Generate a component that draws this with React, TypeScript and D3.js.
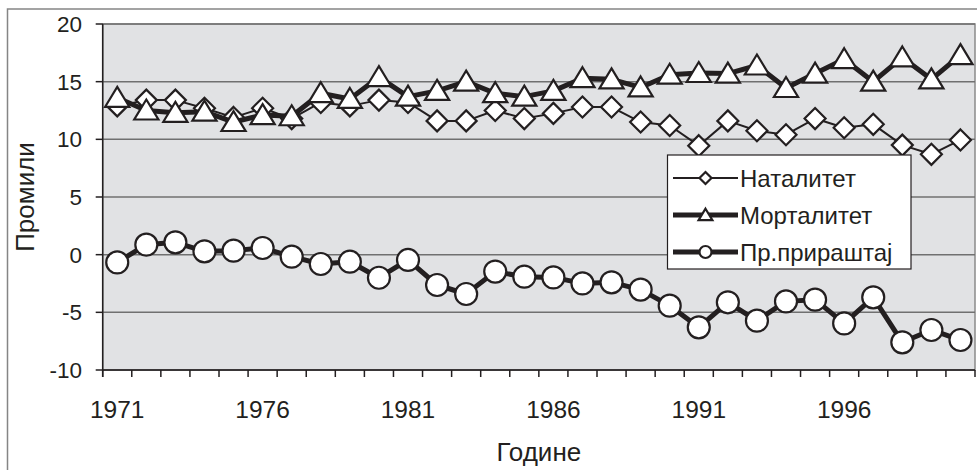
import React from "react";
import * as d3 from "d3";

// Године (категорије на x оси)
const years = [
  1971, 1972, 1973, 1974, 1975, 1976, 1977, 1978, 1979, 1980,
  1981, 1982, 1983, 1984, 1985, 1986, 1987, 1988, 1989, 1990,
  1991, 1992, 1993, 1994, 1995, 1996, 1997, 1998, 1999, 2000,
];

const natalitet = [
  12.9, 13.4, 13.4, 12.7, 11.9, 12.7, 11.8, 13.2, 12.9, 13.4,
  13.2, 11.6, 11.6, 12.5, 11.8, 12.25, 12.8, 12.8, 11.5, 11.2,
  9.45, 11.6, 10.75, 10.4, 11.8, 11.0, 11.3, 9.5, 8.7, 9.95,
];

const mortalitet = [
  13.6, 12.5, 12.3, 12.4, 11.5, 12.1, 12.0, 14.0, 13.5, 15.4,
  13.7, 14.2, 15.0, 14.0, 13.7, 14.2, 15.3, 15.2, 14.5, 15.6,
  15.75, 15.7, 16.4, 14.45, 15.7, 16.95, 15.0, 17.1, 15.2, 17.3,
];

const prirastaj = [
  -0.67, 0.87, 1.07, 0.29, 0.35, 0.58, -0.17, -0.81, -0.61, -2.0,
  -0.46, -2.63, -3.41, -1.47, -1.91, -1.97, -2.49, -2.4, -3.03, -4.42,
  -6.3, -4.13, -5.72, -4.05, -3.9, -5.96, -3.7, -7.6, -6.53, -7.4,
];

const yTicks = [-10, -5, 0, 5, 10, 15, 20];
const xLabelYears = [1971, 1976, 1981, 1986, 1991, 1996];

const seriesNames = ["Наталитет", "Морталитет", "Пр.прираштај"];

const W = 977;
const H = 470;
const plot = { left: 102.7, right: 975, top: 24, bottom: 370 };
const INK = "#231f20";
const FONT = "'Liberation Sans', Arial, sans-serif";

type Kind = "diamond" | "triangle" | "circle";

function Marker({ kind, x, y, s }: { kind: Kind; x: number; y: number; s: number }) {
  if (kind === "circle") {
    return <circle cx={x} cy={y} r={s} fill="#fff" stroke={INK} strokeWidth={2.2} />;
  }
  if (kind === "diamond") {
    const p = `M${x},${y - s} L${x + s},${y} L${x},${y + s} L${x - s},${y} Z`;
    return <path d={p} fill="#fff" stroke={INK} strokeWidth={2.2} />;
  }
  const h = s * 1.9;
  const p = `M${x},${y - h * 0.55} L${x + s * 1.15},${y + h * 0.45} L${x - s * 1.15},${y + h * 0.45} Z`;
  return <path d={p} fill="#fff" stroke={INK} strokeWidth={2.2} strokeLinejoin="miter" />;
}

export default function App() {
  const x = d3
    .scaleBand<number>()
    .domain(years)
    .range([plot.left, plot.right])
    .paddingInner(0)
    .paddingOuter(0);
  const y = d3.scaleLinear().domain([-10, 20]).range([plot.bottom, plot.top]);
  const cx = (yr: number) => (x(yr) as number) + x.bandwidth() / 2;

  const series = [
    { name: seriesNames[0], values: natalitet, kind: "diamond" as Kind, width: 2, size: 10.5 },
    { name: seriesNames[1], values: mortalitet, kind: "triangle" as Kind, width: 5, size: 10.5 },
    { name: seriesNames[2], values: prirastaj, kind: "circle" as Kind, width: 5, size: 11 },
  ];

  const line = d3
    .line<number>()
    .x((_, i) => cx(years[i]))
    .y((d) => y(d));

  const tickBounds = years.map((yr) => x(yr) as number).concat([plot.right]);

  const legend = { x: 667.5, y: 155, w: 243.5, h: 114 };
  const legendRows = [178, 215, 252];

  return (
    <svg
      width={W}
      height={H}
      style={{ position: "fixed", left: 0, top: 0, background: "#fff" }}
      fontFamily={FONT}
    >
      {/* outer chart border */}
      <rect x={7.5} y={9} width={W + 20} height={H + 20} fill="#fff" stroke="#858585" strokeWidth={1.5} />

      {/* plot area */}
      <rect
        x={plot.left}
        y={plot.top}
        width={plot.right - plot.left}
        height={plot.bottom - plot.top}
        fill="#e1e2e4"
        stroke="#8a8a8a"
        strokeWidth={1.5}
      />
      {yTicks.map((t) => (
        <line key={`g${t}`} x1={plot.left} x2={plot.right} y1={y(t)} y2={y(t)} stroke="#707070" strokeWidth={1.5} />
      ))}

      {/* axes */}
      <line x1={plot.left} x2={plot.left} y1={plot.top} y2={plot.bottom + 7} stroke={INK} strokeWidth={1.5} />
      <line x1={plot.left} x2={plot.right} y1={plot.bottom} y2={plot.bottom} stroke={INK} strokeWidth={1.5} />
      {yTicks.map((t) => (
        <g key={`yt${t}`}>
          <line x1={plot.left - 7} x2={plot.left} y1={y(t)} y2={y(t)} stroke={INK} strokeWidth={1.5} />
          <text x={82} y={y(t)} dy="0.36em" textAnchor="end" fontSize={22.5} fill={INK}>
            {t}
          </text>
        </g>
      ))}
      {tickBounds.map((b, i) => (
        <line key={`xt${i}`} x1={b} x2={b} y1={plot.bottom} y2={plot.bottom + 7} stroke={INK} strokeWidth={1.5} />
      ))}
      {xLabelYears.map((yr) => (
        <text key={`xl${yr}`} x={cx(yr)} y={418} textAnchor="middle" fontSize={24.5} fill={INK}>
          {yr}
        </text>
      ))}
      <text x={(plot.left + plot.right) / 2} y={461} textAnchor="middle" fontSize={26} fill={INK}>
        Године
      </text>
      <text
        transform={`translate(34,${(plot.top + plot.bottom) / 2}) rotate(-90)`}
        textAnchor="middle"
        fontSize={26}
        fill={INK}
      >
        Промили
      </text>

      {/* series */}
      {series.map((s) => (
        <g key={s.name}>
          <path d={line(s.values) || ""} fill="none" stroke={INK} strokeWidth={s.width} strokeLinejoin="round" />
          {s.values.map((v, i) => (
            <Marker key={i} kind={s.kind} x={cx(years[i])} y={y(v)} s={s.size} />
          ))}
        </g>
      ))}

      {/* legend */}
      <rect x={legend.x} y={legend.y} width={legend.w} height={legend.h} fill="#fff" stroke={INK} strokeWidth={1.2} />
      {series.map((s, i) => (
        <g key={`lg${s.name}`}>
          <line x1={673} x2={738} y1={legendRows[i]} y2={legendRows[i]} stroke={INK} strokeWidth={s.width} />
          <Marker kind={s.kind} x={705.5} y={legendRows[i]} s={6} />
          <text x={740} y={legendRows[i]} dy="0.36em" fontSize={24} fill={INK}>
            {s.name}
          </text>
        </g>
      ))}
    </svg>
  );
}
